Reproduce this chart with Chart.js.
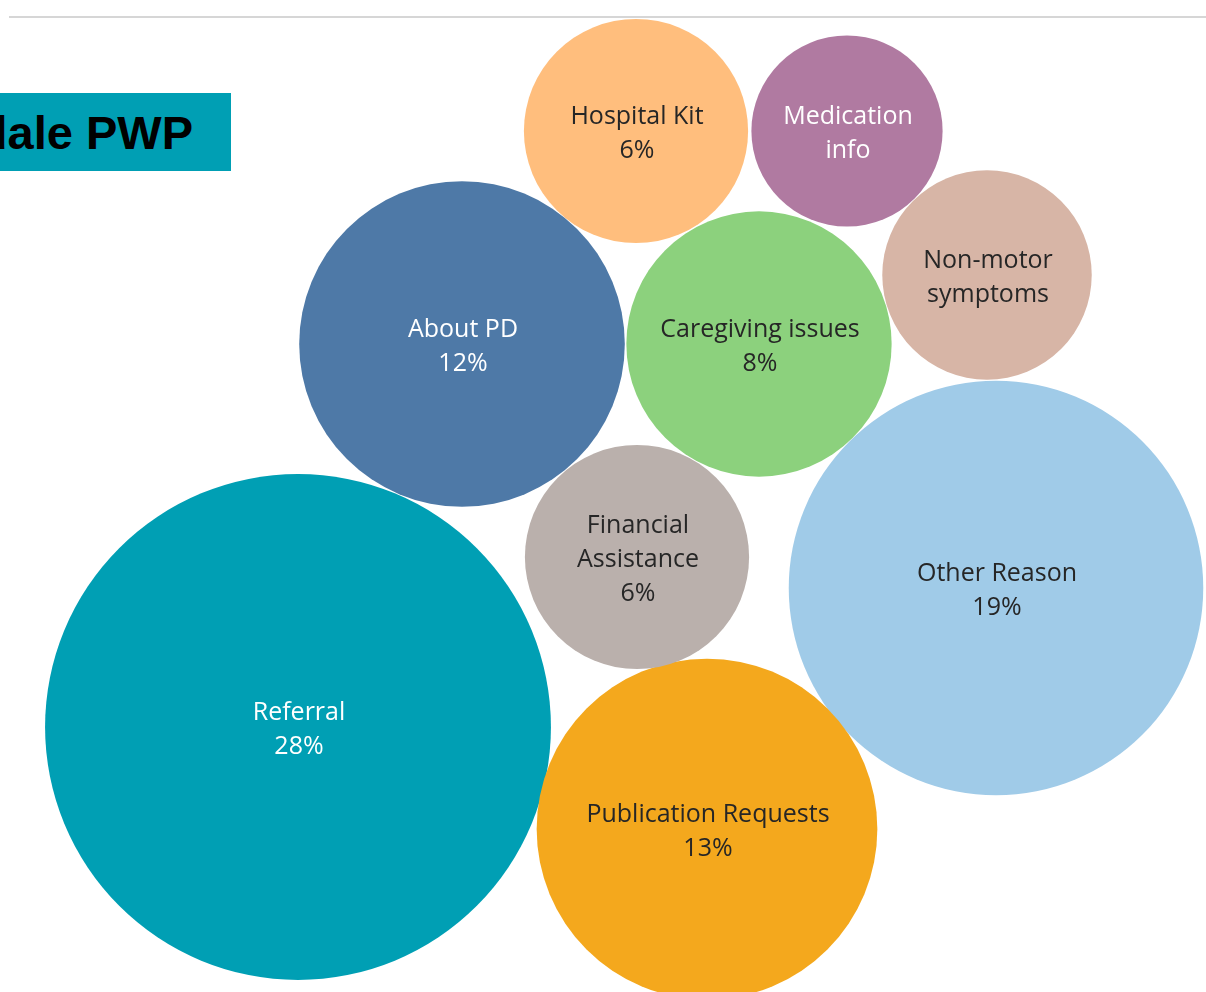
<!DOCTYPE html>
<html>
<head>
<meta charset="utf-8">
<script src="https://cdn.jsdelivr.net/npm/chart.js@4/dist/chart.umd.min.js"></script>
<style>
  body { margin: 0; background: #fff; }
  #wrap { position: relative; width: 1206px; height: 992px; overflow: hidden; }
  #rule { position: absolute; left: 9px; top: 16px; width: 1197px; height: 2px; background: #d6d6d6; }
  #title {
    position: absolute; left: 0; top: 93px; width: 231px; height: 78px;
    background: #009fb4; overflow: hidden; white-space: nowrap;
    font: bold 47px "Liberation Sans", Arial, sans-serif; color: #000;
    line-height: 80px; text-align: right; box-sizing: border-box; padding-right: 38px;
  }
  #title span { float: right; }
</style>
</head>
<body>
<div id="wrap">
  <canvas id="bubbleChart" width="1206" height="992"></canvas>
  <div id="rule"></div>
  <div id="title"><span>Rochdale PWP</span></div>
</div>
<script>
// Categories and shares (bubble size)
const categories = ['Referral', 'Other Reason', 'Publication Requests', 'About PD', 'Caregiving issues',
                    'Hospital Kit', 'Financial Assistance', 'Non-motor symptoms', 'Medication info'];
const shares = [28, 18.8, 12.7, 11.6, 7.7, 5.5, 5.5, 4.8, 4.0];
const pctLabels = ['28%', '19%', '13%', '12%', '8%', '6%', '6%', '', ''];
// label lines as shown inside each bubble
const labelLines = [['Referral'], ['Other Reason'], ['Publication Requests'], ['About PD'], ['Caregiving issues'],
                    ['Hospital Kit'], ['Financial', 'Assistance'], ['Non-motor', 'symptoms'], ['Medication', 'info']];
// packed layout position of each bubble
const layoutX = [298, 996, 707, 462, 759, 636, 637, 987, 847];
const layoutY = [727, 588, 829, 344, 344, 131, 557, 275, 131];

const colors = ['#009fb4', '#a0cbe8', '#f4a81d', '#4e79a7', '#8cd17d', '#ffbe7d', '#bab0ac', '#d7b5a6', '#b07aa1'];
const textColors = ['#ffffff', '#262626', '#262626', '#ffffff', '#262626', '#262626', '#262626', '#262626', '#ffffff'];
const sizeK = 47.8; // radius = sizeK * sqrt(share)

// Bubble labels
const bubbleLabels = {
    id: 'bubbleLabels',
    afterDatasetsDraw(chart) {
        const ctx = chart.ctx;
        const meta = chart.getDatasetMeta(0);
        ctx.save();
        ctx.font = '25px "Open Sans", sans-serif';
        ctx.textAlign = 'center';
        ctx.textBaseline = 'middle';
        meta.data.forEach((el, i) => {
            const lines = labelLines[i].slice();
            if (pctLabels[i]) lines.push(pctLabels[i]);
            const lh = 34;
            const top = el.y + 3 - (lines.length - 1) * lh / 2;
            ctx.fillStyle = textColors[i];
            lines.forEach((t, j) => ctx.fillText(t, el.x + 1, top + j * lh));
        });
        ctx.restore();
    }
};

const ctx = document.getElementById('bubbleChart').getContext('2d');
const bubbleChart = new Chart(ctx, {
    type: 'bubble',
    data: {
        labels: categories,
        datasets: [{
            data: categories.map((c, i) => ({ x: layoutX[i], y: layoutY[i], r: sizeK * Math.sqrt(shares[i]) })),
            backgroundColor: colors,
            borderWidth: 0,
            hoverBorderWidth: 0,
            clip: false
        }]
    },
    options: {
        responsive: false,
        animation: false,
        events: [],
        layout: { padding: 0, autoPadding: false },
        plugins: { legend: { display: false }, tooltip: { enabled: false } },
        scales: {
            x: { type: 'linear', min: 0, max: 1206, display: false },
            y: { type: 'linear', min: 0, max: 992, reverse: true, display: false }
        }
    },
    plugins: [bubbleLabels]
});
</script>
</body>
</html>
